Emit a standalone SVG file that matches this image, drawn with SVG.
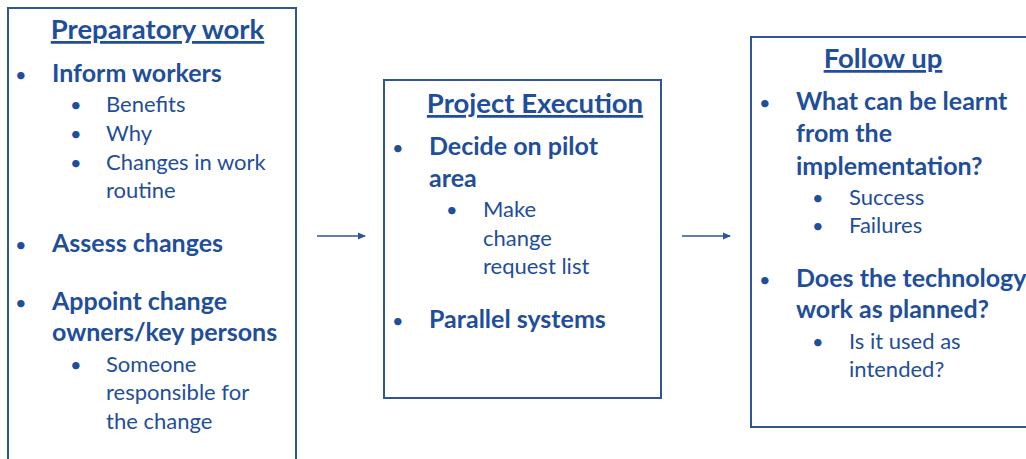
<svg xmlns="http://www.w3.org/2000/svg" width="1026" height="459" viewBox="0 0 1026 459">
<defs>
<marker id="ah" markerWidth="8" markerHeight="8" refX="7" refY="4" orient="auto" markerUnits="userSpaceOnUse">
<path d="M0,0.5 L8,4 L0,7.5 Z" fill="#2F5597"/>
</marker>
<style>
.box{fill:#fff;stroke:#2F5597;stroke-width:2}
text{font-family:Lato,"Liberation Sans",sans-serif;fill:#1F4E9A}
.t{font-size:27.5px;font-weight:bold;text-decoration:underline;text-anchor:middle}
.h{font-size:25px;font-weight:bold}
.s{font-size:22px}
.b{font-size:20px}
.c{stroke:#2F5597;stroke-width:1.3;fill:none}
</style>
</defs>
<rect width="1026" height="459" fill="#fff"/>
<g id="connectors">
<line class="c" x1="317" y1="236" x2="365" y2="236" marker-end="url(#ah)"/>
<line class="c" x1="682" y1="236" x2="730" y2="236" marker-end="url(#ah)"/>
</g>
<g id="preparatory">
<rect class="box" x="8" y="8" width="288" height="470"/>
<text class="t" x="157.5" y="39">Preparatory work</text>
<text class="b" x="15" y="82">•</text><text class="h" x="52" y="82">Inform workers</text>
<text class="b" x="70" y="112">•</text><text class="s" x="106" y="112">Benefits</text>
<text class="b" x="70" y="141">•</text><text class="s" x="106" y="141">Why</text>
<text class="b" x="70" y="170">•</text><text class="s" x="106" y="170">Changes in work</text>
<text class="s" x="106" y="198">routine</text>
<text class="b" x="15" y="252">•</text><text class="h" x="52" y="252">Assess changes</text>
<text class="b" x="15" y="310">•</text><text class="h" x="52" y="310">Appoint change</text>
<text class="h" x="52" y="341">owners/key persons</text>
<text class="b" x="70" y="372">•</text><text class="s" x="106" y="372">Someone</text>
<text class="s" x="106" y="400">responsible for</text>
<text class="s" x="106" y="429">the change</text>
</g>
<g id="execution">
<rect class="box" x="384" y="80" width="277" height="318"/>
<text class="t" x="535" y="113">Project Execution</text>
<text class="b" x="392" y="155">•</text><text class="h" x="429" y="155">Decide on pilot</text>
<text class="h" x="429" y="187">area</text>
<text class="b" x="446" y="217">•</text><text class="s" x="483" y="217">Make</text>
<text class="s" x="483" y="246">change</text>
<text class="s" x="483" y="274">request list</text>
<text class="b" x="392" y="328">•</text><text class="h" x="429" y="328">Parallel systems</text>
</g>
<g id="followup">
<rect class="box" x="751" y="37" width="300" height="390"/>
<text class="t" x="883" y="68">Follow up</text>
<text class="b" x="759" y="110">•</text><text class="h" x="796" y="110">What can be learnt</text>
<text class="h" x="796" y="142">from the</text>
<text class="h" x="796" y="175">implementation?</text>
<text class="b" x="812" y="205">•</text><text class="s" x="849" y="205">Success</text>
<text class="b" x="812" y="233">•</text><text class="s" x="849" y="233">Failures</text>
<text class="b" x="759" y="287">•</text><text class="h" x="796" y="287">Does the technology</text>
<text class="h" x="796" y="318">work as planned?</text>
<text class="b" x="812" y="349">•</text><text class="s" x="849" y="349">Is it used as</text>
<text class="s" x="849" y="377">intended?</text>
</g>
</svg>
